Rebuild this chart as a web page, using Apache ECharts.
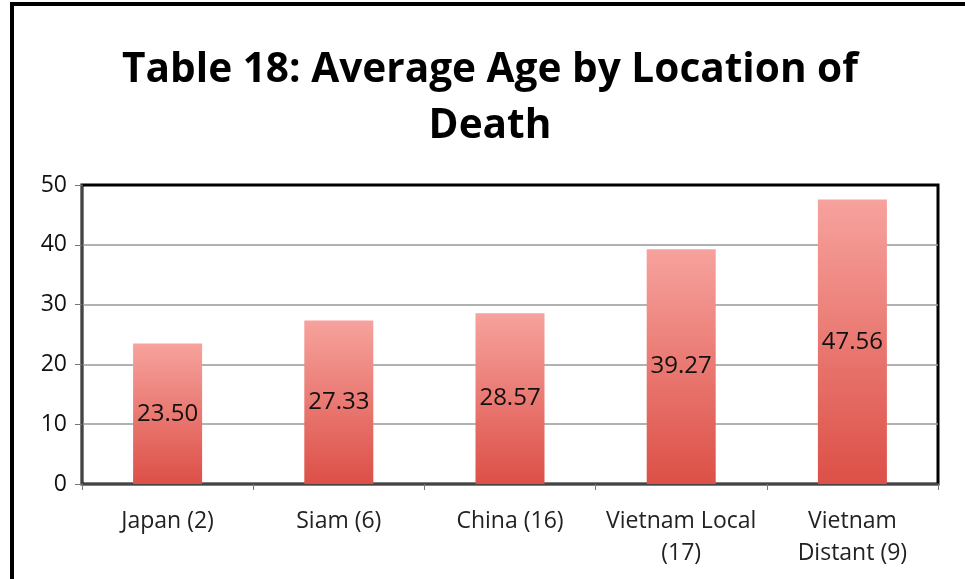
<!DOCTYPE html>
<html>
<head>
<meta charset="utf-8">
<script src="https://cdn.jsdelivr.net/npm/echarts@6/dist/echarts.min.js"></script>
<style>
  html, body { margin: 0; padding: 0; background: #fff; }
  #chart { width: 965px; height: 579px; }
</style>
</head>
<body>
<div id="chart"></div>
<script>
// chart data
var categories = ['Japan (2)', 'Siam (6)', 'China (16)', 'Vietnam Local\n(17)', 'Vietnam\nDistant (9)'];
var avgAge = [23.50, 27.33, 28.57, 39.27, 47.56];
var yTicks = [0, 10, 20, 30, 40, 50];

var chart = echarts.init(document.getElementById('chart'));

var option = {
  backgroundColor: '#fff',
  animation: false,
  title: {
    text: 'Table 18: Average Age by Location of\nDeath',
    left: 485, // centre of the title text
    top: 37,
    textAlign: 'center',
    textStyle: {
      fontFamily: 'Open Sans',
      fontWeight: 'bold',
      fontSize: 40.6,
      lineHeight: 56,
      color: '#000'
    }
  },
  graphic: [
    {
      // outer frame of the picture
      type: 'rect',
      shape: { x: 12, y: 4, width: 990, height: 600 },
      style: { fill: 'none', stroke: '#000', lineWidth: 4 },
      silent: true
    }
  ],
  grid: {
    left: 82,
    right: 27,
    top: 185,
    bottom: 95,
    show: true,
    borderColor: '#000',
    borderWidth: 3
  },
  xAxis: {
    type: 'category',
    data: categories,
    axisLine: { lineStyle: { color: '#444', width: 2 } },
    axisTick: { show: true, length: 6, lineStyle: { color: '#777' } },
    axisLabel: {
      fontFamily: 'Open Sans',
      fontSize: 23,
      color: '#222',
      margin: 21,
      lineHeight: 32,
      interval: 0
    }
  },
  yAxis: {
    type: 'value',
    min: yTicks[0],
    max: yTicks[yTicks.length - 1],
    interval: 10,
    axisLine: { show: true, lineStyle: { color: '#444', width: 2 } },
    axisTick: { show: true, length: 7, lineStyle: { color: '#777' } },
    axisLabel: {
      fontFamily: 'Open Sans',
      fontSize: 23,
      color: '#111',
      margin: 15
    },
    splitLine: { showMaxLine: false, lineStyle: { color: '#999', width: 1.5 } }
  },
  series: [
    {
      type: 'bar',
      data: avgAge,
      barWidth: 69,
      itemStyle: {
        color: new echarts.graphic.LinearGradient(0, 0, 0, 1, [
          { offset: 0, color: '#f7a29d' },
          { offset: 1, color: '#dc5047' }
        ])
      },
      label: {
        show: true,
        position: 'inside',
        fontFamily: 'Open Sans',
        fontSize: 24,
        color: '#111',
        formatter: function (p) { return p.value.toFixed(2); }
      }
    }
  ]
};

chart.setOption(option);
</script>
</body>
</html>
